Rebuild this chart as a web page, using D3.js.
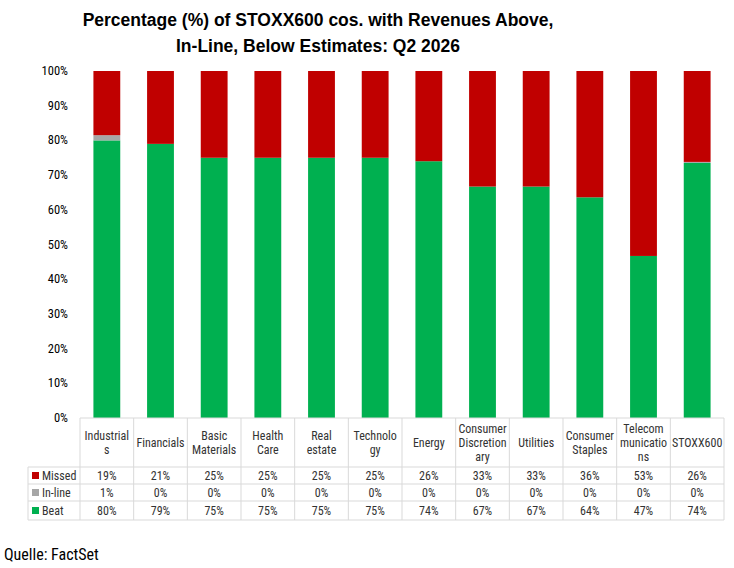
<!DOCTYPE html>
<html><head><meta charset="utf-8">
<script src="https://cdn.jsdelivr.net/npm/d3@7"></script>
<style>body{margin:0;background:#fff}</style></head>
<body><svg id="c" width="734" height="568"></svg>
<script>
const categories=[["Industrial","s"],["Financials"],["Basic","Materials"],["Health","Care"],["Real","estate"],["Technolo","gy"],["Energy"],["Consumer","Discretion","ary"],["Utilities"],["Consumer","Staples"],["Telecom","municatio","ns"],["STOXX600"]];
const beat=[80,79,75,75,75,75,74,66.7,66.7,63.6,46.7,73.5];
const inline=[1.5,0,0,0,0,0,0,0,0,0,0,0.3];
const missed=[18.5,21,25,25,25,25,26,33.3,33.3,36.4,53.3,26.2];
const missedLbl=["19%","21%","25%","25%","25%","25%","26%","33%","33%","36%","53%","26%"];
const inlineLbl=["1%","0%","0%","0%","0%","0%","0%","0%","0%","0%","0%","0%"];
const beatLbl=["80%","79%","75%","75%","75%","75%","74%","67%","67%","64%","47%","74%"];
const yTicks=[0,10,20,30,40,50,60,70,80,90,100];
const colors={Missed:"#c00000","In-line":"#a6a6a6",Beat:"#00b050"};
const F="'Liberation Sans Narrow','Roboto Condensed','Liberation Sans',sans-serif";
const svg=d3.select("#c");
const x0=80,x1=724,yTop=71,yBot=418;
const x=d3.scaleBand().domain(d3.range(categories.length)).range([x0,x1]).paddingInner(0.5).paddingOuter(0.25);
const xc=d3.scaleBand().domain(d3.range(categories.length)).range([x0,x1]);
const y=d3.scaleLinear().domain([0,100]).range([yBot,yTop]);
svg.append("text").attr("x",318).attr("y",26).attr("text-anchor","middle").attr("font-family","'Liberation Sans',Arial,sans-serif").attr("font-weight","bold").attr("font-size",17.5).text("Percentage (%) of STOXX600 cos. with Revenues Above,");
svg.append("text").attr("x",318).attr("y",52).attr("text-anchor","middle").attr("font-family","'Liberation Sans',Arial,sans-serif").attr("font-weight","bold").attr("font-size",17.5).text("In-Line, Below Estimates: Q2 2026");
yTicks.forEach(t=>svg.append("text").attr("x",68).attr("y",y(t)+4).attr("text-anchor","end").attr("font-family",F).attr("font-size",12.5).text(t+"%"));
const stack=d3.stack().keys(["Beat","In-line","Missed"])(categories.map((c,i)=>({Beat:beat[i],"In-line":inline[i],Missed:missed[i]})));
stack.forEach(s=>svg.append("g").selectAll("rect").data(s).join("rect").attr("x",(d,i)=>x(i)).attr("width",x.bandwidth()).attr("y",d=>y(d[1])).attr("height",d=>y(d[0])-y(d[1])).attr("fill",colors[s.key]));
const rows=[{k:"Missed",l:missedLbl},{k:"In-line",l:inlineLbl},{k:"Beat",l:beatLbl}];
const rowY=[418,467,484,501,520];
const g=svg.append("g").attr("stroke","#d9d9d9").attr("fill","none");
rowY.forEach((ry,i)=>g.append("line").attr("x1",i==0?x0:28).attr("x2",x1).attr("y1",ry).attr("y2",ry));
g.append("line").attr("x1",28).attr("x2",28).attr("y1",467).attr("y2",520);
d3.range(categories.length+1).forEach(i=>{const xx=i<categories.length?xc(i):x1;g.append("line").attr("x1",xx).attr("x2",xx).attr("y1",418).attr("y2",520);});
categories.forEach((c,i)=>{const cx=xc(i)+xc.bandwidth()/2;const n=c.length;const mid=442.5;
 c.forEach((s,j)=>svg.append("text").attr("x",cx).attr("y",mid+(j-(n-1)/2)*14+4).attr("text-anchor","middle").attr("font-family",F).attr("font-size",12).attr("fill","#333").text(s));});
rows.forEach((r,ri)=>{const cy=(rowY[ri+1]+rowY[ri+2])/2;
 svg.append("rect").attr("x",32).attr("y",cy-3.5).attr("width",7).attr("height",7).attr("fill",colors[r.k]);
 svg.append("text").attr("x",42).attr("y",cy+4).attr("font-family",F).attr("font-size",12).attr("fill","#333").text(r.k);
 r.l.forEach((v,i)=>svg.append("text").attr("x",xc(i)+xc.bandwidth()/2).attr("y",cy+4).attr("text-anchor","middle").attr("font-family",F).attr("font-size",12).attr("fill","#333").text(v));});
svg.append("text").attr("x",4).attr("y",560).attr("font-family",F).attr("font-size",16).text("Quelle: FactSet");
</script></body></html>
